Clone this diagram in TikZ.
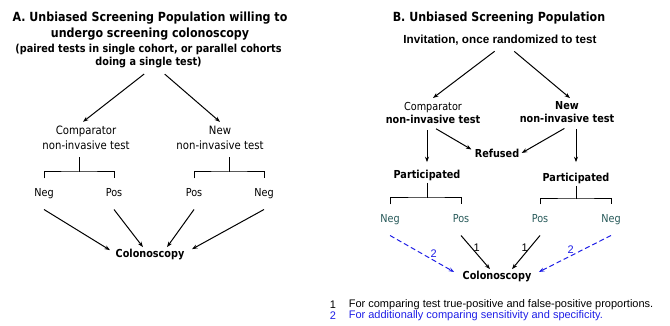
\documentclass[tikz,border=0pt]{standalone}
\usepackage{fontspec}
\usetikzlibrary{arrows.meta}
\newfontfamily\tahoma[FakeStretch=0.88]{DejaVu Sans}
\newfontfamily\arial{Liberation Sans}
\definecolor{verdeazul}{RGB}{40,90,90}
\definecolor{azul}{RGB}{30,30,230}

\begin{document}
\begin{tikzpicture}[x=1pt, y=-1pt, line width=1pt, >={Stealth[length=5.5pt,width=4pt]},
  titulo/.style={font=\tahoma\bfseries\fontsize{12.6}{16}\selectfont, align=center},
  subtitulo/.style={font=\tahoma\bfseries\fontsize{11}{13}\selectfont, align=center},
  prueba/.style={font=\tahoma\fontsize{11.5}{15}\selectfont, align=center},
  pruebaB/.style={font=\tahoma\fontsize{11}{13}\selectfont, align=center},
  negrita/.style={font=\tahoma\bfseries\fontsize{11}{13}\selectfont, inner sep=2pt},
  resultado/.style={font=\tahoma\fontsize{11}{13}\selectfont, minimum height=30pt, inner sep=0pt, text height=8pt, text depth=2.5pt},
  resultadoB/.style={resultado, text=verdeazul},
  num/.style={font=\arial\fontsize{11}{13}\selectfont, inner sep=2pt},
  rayado/.style={->, azul, dash pattern=on 5pt off 3pt},
  leyenda/.style={font=\arial\fontsize{11}{12}\selectfont}]

\useasboundingbox (0,0) rectangle (670,326);

% Panel A: una sola cohorte que acepta la colonoscopia
\node[titulo] (titA) at (150,26) {A. Unbiased Screening Population willing to\\undergo screening colonoscopy};
\node[subtitulo] (subA) at (148.5,56.5) {(paired tests in single cohort, or parallel cohorts\\doing a single test)};
\node[prueba] (compA) at (86,137.5) {Comparator\\non-invasive test};
\node[prueba] (newA) at (220,137.5) {New\\non-invasive test};
\draw[->, shorten <=3pt] ([xshift=-2pt]subA.south) -- ([xshift=-3pt]compA.north);
\draw[->, shorten <=3pt] ([xshift=14pt]subA.south) -- (newA.north);

% Llaves de resultados
\node[resultado] (negA) at (44,194) {Neg};
\node[resultado] (posA) at (114,194) {Pos};
\node[resultado] (posA2) at (194,194) {Pos};
\node[resultado] (negA2) at (264,194) {Neg};
\coordinate (llaveA) at (79,172);
\coordinate (llaveA2) at (229,172);
\draw[shorten <=4pt] (compA.south -| llaveA) -- (llaveA);
\draw (negA.north) |- (llaveA) -| (posA.north);
\draw[shorten <=4pt] (newA.south -| llaveA2) -- (llaveA2);
\draw (posA2.north) |- (llaveA2) -| (negA2.north);

% Todos van a colonoscopia
\node[negrita] (colA) at (150,255) {Colonoscopy};
\draw[->] (negA.south) -- ([xshift=-40pt,yshift=-3pt]colA.north);
\draw[->] (posA.south) -- ([xshift=-7pt]colA.north);
\draw[->] (posA2.south) -- ([xshift=17pt]colA.north);
\draw[->] (negA2.south) -- ([xshift=42pt,yshift=-2pt]colA.north);

% Panel B: invitacion aleatorizada
\node[titulo] (titB) at (499,18) {B. Unbiased Screening Population};
\node[font=\arial\bfseries\fontsize{11.7}{14}\selectfont] (invB) at (500,40.5) {Invitation, once randomized to test};
\node[pruebaB] (compB) at (433,112.5) {Comparator\\\textbf{non-invasive test}};
\node[pruebaB, font=\tahoma\bfseries\fontsize{11}{13}\selectfont] (newB) at (567,112.5) {New\\non-invasive test};
\draw[->, shorten <=3pt] ([xshift=-3pt]invB.south) -- (compB.north);
\draw[->, shorten <=3pt] ([xshift=12pt]invB.south) -- ([xshift=3pt]newB.north);

% Rechazo o participacion
\node[negrita] (refB) at (497,153) {Refused};
\node[negrita] (partL) at (427,175) {Participated};
\node[negrita] (partR) at (576,178) {Participated};
\draw[->, shorten <=3.5pt, shorten >=1pt] (compB.south) -- ([yshift=3pt]refB.west);
\draw[->, shorten <=3pt] (newB.south) -- (refB.east);
\draw[->, shorten <=3.5pt, shorten >=5pt] (compB.south -| partL) -- (partL.north);
\draw[->, shorten <=2pt, shorten >=8pt] (newB.south -| partR) -- (partR.north);

% Llaves de resultados
\node[resultadoB] (negB) at (390,220) {Neg};
\node[resultadoB] (posB) at (461,220) {Pos};
\node[resultadoB] (posB2) at (540,220) {Pos};
\node[resultadoB] (negB2) at (611,220) {Neg};
\coordinate (llaveL) at (427,198);
\coordinate (llaveR) at (576,199);
\draw (partL.south) -- (llaveL);
\draw (negB.north) |- (llaveL) -| (posB.north);
\draw (partR.south) -- (llaveR);
\draw (posB2.north) |- (llaveR) -| (negB2.north);

% Colonoscopia, flechas 1 y 2
\node[negrita] (colB) at (497,277) {Colonoscopy};
\draw[rayado] (negB.south) -- node[num, pos=0.68, above] {2} ([shift={(-6pt,5pt)}]colB.west);
\draw[->] (posB.south) -- node[num, pos=0.35, right] {1} ([xshift=-7pt]colB.north);
\draw[->] (posB2.south) -- node[num, pos=0.35, left] {1} ([xshift=15pt]colB.north);
\draw[rayado] (negB2.south) -- node[num, pos=0.56, above] {2} ([shift={(5pt,5pt)}]colB.east);

% Leyenda
\node[leyenda] (n1) at (333,305) {1};
\node[leyenda, anchor=west] (t1) at (345,305) {For comparing test true-positive and false-positive proportions.};
\node[leyenda, text=azul] (n2) at (333,316) {2};
\node[leyenda, text=azul, anchor=west] (t2) at (345,316) {For additionally comparing sensitivity and specificity.};
\end{tikzpicture}
\end{document}
